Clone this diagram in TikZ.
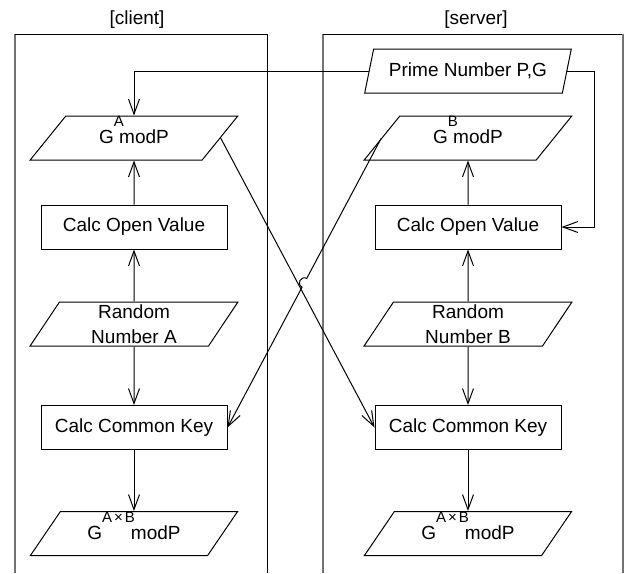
\documentclass[tikz,border=0pt]{standalone}
\usepackage{fontspec}
\setmainfont{Liberation Sans}
\usetikzlibrary{shapes.geometric, arrows.meta, calc}
\tikzstyle{data} = [trapezium, trapezium left angle=63.4, trapezium right angle=116.6, trapezium stretches=true, minimum width=104pt, minimum height=22pt, inner ysep=0pt, align=center, draw=black]
\tikzstyle{power} = [data, text depth=8pt]
\tikzstyle{process} = [rectangle, minimum width=93pt, minimum height=22pt, text centered, draw=black]
\tikzstyle{arrow} = [-{Straight Barb[length=7.5pt, width=5.5pt]}]
\tikzstyle{lane} = [draw=black]
\tikzstyle{laneside} = [draw=black!55, line width=1pt]
\newcommand{\pw}[1]{\raisebox{8.5pt}{\fontsize{7.5}{7.5}\selectfont #1}}

\begin{document}
\begin{tikzpicture}[x=0.5pt, y=-0.5pt, line width=0.5pt, font=\fontsize{9.5}{12.5}\selectfont]
\useasboundingbox (0, 0) rectangle (630, 573);

\draw [laneside] (15, 573) -- (15, 34);
\draw [lane] (15, 34) -- (267, 34) -- (267, 573);
\draw [laneside] (323, 573) -- (323, 34);
\draw [lane] (323, 34) -- (623, 34);
\draw [laneside] (623, 34) -- (623, 573);
\node at (137, 20) (client) {[client]};
\node at (476, 20) (server) {[server]};

\node at (468, 71) (prime) [data] {Prime Number P,G};

\node at (134, 138) (powA) [power] {G\rlap{\pw{A}} modP};
\node at (134, 227) (openA) [process] {Calc Open Value};
\node at (134, 324) (randA) [data] {Random\\Number A};
\node at (134, 427.5) (keyA) [process] {Calc Common Key};
\node at (134, 533.5) (sharedA) [power] {G\pw{A\kern1pt×\kern1pt B}\kern-2pt modP};

\node at (468, 138) (powB) [power] {G\rlap{\pw{B}} modP};
\node at (468, 227) (openB) [process] {Calc Open Value};
\node at (468, 324) (randB) [data] {Random\\Number B};
\node at (468, 427.5) (keyB) [process] {Calc Common Key};
\node at (468, 533.5) (sharedB) [power] {G\pw{A\kern1pt×\kern1pt B}\kern-2pt modP};

\draw [arrow] (prime.west) -| (powA.north);
\draw [arrow] (prime.east) -- ++(27, 0) |- (openB.east);

\draw [arrow] (randA) -- (openA);
\draw [arrow] (openA) -- (powA);
\draw [arrow] (randA) -- (keyA);
\draw [arrow] (keyA) -- (sharedA);

\draw [arrow] (randB) -- (openB);
\draw [arrow] (openB) -- (powB);
\draw [arrow] (randB) -- (keyB);
\draw [arrow] (keyB) -- (sharedB);

\draw [arrow] (powA.east) -- (keyB.west);
\draw [arrow] (powB.west) -- ($(powB.west)!0.485!(keyA.east)$) .. controls +(-6, -3) and +(-6, -3) .. ($(powB.west)!0.515!(keyA.east)$) -- (keyA.east);

\end{tikzpicture}
\end{document}
